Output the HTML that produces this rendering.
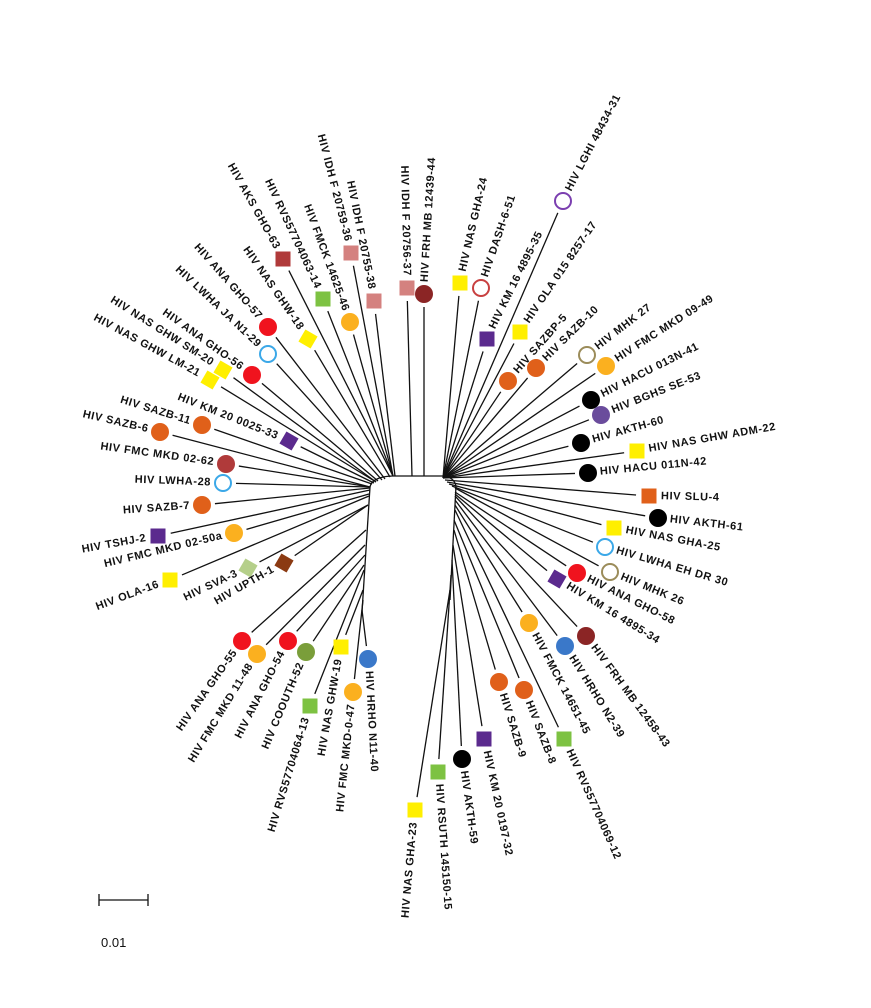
<!DOCTYPE html>
<html><head><meta charset="utf-8"><style>
html,body{margin:0;padding:0;background:#fff;width:871px;height:1008px;overflow:hidden}
text{font-family:"Liberation Sans",sans-serif;font-size:11px;font-weight:bold;fill:#111;letter-spacing:0.6px}
</style></head><body>
<svg id="s" width="871" height="1008" xmlns="http://www.w3.org/2000/svg">
<g stroke="#111" stroke-width="1.3" fill="none">
<path d="M370,487 Q372,477 392,476 L443,476 Q454,477 456,486"/>
<path d="M370,487 L362,612"/>
<path d="M456,486 L450,600"/>
<path d="M99,900 L148,900 M99,894 L99,906 M148,894 L148,906"/>
</g>
<text x="101" y="947" style="font-weight:normal;font-size:13px;letter-spacing:0">0.01</text>
</svg>
<script>
var R='#f0131e',O='#e0601a',Y='#fbb01f',YL='#ffef00',P='#5b2a8e',G='#7dc242',PK='#d4817f',DR='#8b2525',BR='#b03a3a',BL='#3ba8e8',OL='#9b8c5a',K='#000';
var L=[
['HIV AKS GHO-63',283,259,'s',BR,393,476],
['HIV RVS57704063-14',323,299,'s',G,393,476],
['HIV FMCK 14625-46',350,322,'c',Y,393,476],
['HIV IDH F 20759-36',351,253,'s',PK,393,476],
['HIV IDH F 20755-38',374,301,'s',PK,395,476],
['HIV IDH F 20756-37',407,288,'s',PK,412,476],
['HIV FRH MB 12439-44',424,294,'c',DR,424,476],
['HIV NAS GHW-18',308,339,'d',YL,390,477],
['HIV ANA GHO-57',268,327,'c',R,385,479],
['HIV LWHA JA N1-29',268,354,'r',BL,382,480],
['HIV ANA GHO-56',252,375,'c',R,378,481],
['HIV NAS GHW SM-20',223,370,'d',YL,376,482],
['HIV NAS GHW LM-21',210,380,'d',YL,376,482],
['HIV KM 20 0025-33',289,441,'d',P,374,483],
['HIV SAZB-11',202,425,'c',O,372,484],
['HIV SAZB-6',160,432,'c',O,370,487],
['HIV FMC MKD 02-62',226,464,'c',BR,370,487],
['HIV LWHA-28',223,483,'r',BL,370,487],
['HIV SAZB-7',202,505,'c',O,370,488],
['HIV TSHJ-2',158,536,'s',P,370,490],
['HIV FMC MKD 02-50a',234,533,'c',Y,369,494],
['HIV OLA-16',170,580,'s',YL,369,496],
['HIV SVA-3',248,568,'d','#b5cf8a',368,505],
['HIV UPTH-1',284,563,'d','#8b3a12',368,505],
['HIV ANA GHO-55',242,641,'c',R,366,530],
['HIV FMC MKD 11-48',257,654,'c',Y,365,545],
['HIV ANA GHO-54',288,641,'c',R,365,555],
['HIV COOUTH-52',306,652,'c','#7a9e3a',364,565],
['HIV RVS57704064-13',310,706,'s',G,364,570,107],
['HIV NAS GHW-19',341,647,'s',YL,363,590,100],
['HIV FMC MKD-0-47',353,692,'c',Y,363,600,96],
['HIV HRHO N11-40',368,659,'c','#3a78c9',362,610,87],
['HIV NAS GHA-24',460,283,'s',YL,443,478],
['HIV DASH-6-51',481,288,'r','#c84040',443,478],
['HIV KM 16 4895-35',487,339,'s',P,443,478],
['HIV LGHI 48434-31',563,201,'r','#7b3fb0',443,478],
['HIV OLA 015 8257-17',520,332,'s',YL,443,478],
['HIV SAZBP-5',508,381,'c',O,443,478],
['HIV SAZB-10',536,368,'c',O,443,478],
['HIV MHK 27',587,355,'r',OL,443,478],
['HIV FMC MKD 09-49',606,366,'c',Y,443,478],
['HIV HACU 013N-41',591,400,'c',K,443,478],
['HIV BGHS SE-53',601,415,'c','#6a4c9c',443,478],
['HIV AKTH-60',581,443,'c',K,443,478],
['HIV NAS GHW ADM-22',637,451,'s',YL,443,478],
['HIV HACU 011N-42',588,473,'c',K,443,478],
['HIV SLU-4',649,496,'s',O,445,480],
['HIV AKTH-61',658,518,'c',K,447,482],
['HIV NAS GHA-25',614,528,'s',YL,449,484],
['HIV LWHA EH DR 30',605,547,'r',BL,452,486],
['HIV MHK 26',610,572,'r',OL,455,488],
['HIV ANA GHO-58',577,573,'c',R,455,492],
['HIV KM 16 4895-34',557,579,'d',P,455,494],
['HIV FRH MB 12458-43',586,636,'c',DR,455,496],
['HIV HRHO N2-39',565,646,'c','#3a78c9',455,500],
['HIV FMCK 14651-45',529,623,'c',Y,455,505],
['HIV RVS57704069-12',564,739,'s',G,455,510],
['HIV SAZB-8',524,690,'c',O,454,520],
['HIV SAZB-9',499,682,'c',O,454,530],
['HIV KM 20 0197-32',484,739,'s',P,453,545],
['HIV AKTH-59',462,759,'c',K,452,560],
['HIV RSUTH 145150-15',438,772,'s',G,451,575],
['HIV NAS GHA-23',415,810,'s',YL,450,590,95]
];
var s=document.getElementById('s'),NS='http://www.w3.org/2000/svg';
function el(n,a){var e=document.createElementNS(NS,n);for(var k in a)e.setAttribute(k,a[k]);s.appendChild(e);return e;}
L.forEach(function(l){
 var mx=l[1],my=l[2],ox=l[5],oy=l[6],dx=mx-ox,dy=my-oy,d=Math.sqrt(dx*dx+dy*dy),ux=dx/d,uy=dy/d;
 el('line',{x1:ox,y1:oy,x2:mx-ux*13,y2:my-uy*13,stroke:'#111','stroke-width':1.3});
 var t=l[3],c=l[4];
 if(t=='c')el('circle',{cx:mx,cy:my,r:9,fill:c});
 else if(t=='r')el('circle',{cx:mx,cy:my,r:8,fill:'#fff',stroke:c,'stroke-width':2});
 else if(t=='s')el('rect',{x:mx-7.5,y:my-7.5,width:15,height:15,fill:c});
 else el('rect',{x:mx-7,y:my-7,width:14,height:14,fill:c,transform:'rotate(30 '+mx+' '+my+')'});
 var ccy=my>600?400:490;
 var cx=mx-412,cy=my-ccy,cd=Math.sqrt(cx*cx+cy*cy),vx=cx/cd,vy=cy/cd;
 if(l.length>7){var a=l[7]*Math.PI/180;vx=Math.cos(a);vy=Math.sin(a);}
 var ang=Math.atan2(vy,vx)*180/Math.PI,tx=mx+vx*12,ty=my+vy*12,tt;
 if(vx>0.02)tt=el('text',{x:tx,y:ty,'dominant-baseline':'middle','text-anchor':'start',transform:'rotate('+ang+' '+tx+' '+ty+')'});
 else tt=el('text',{x:tx,y:ty,'dominant-baseline':'middle','text-anchor':'end',transform:'rotate('+(ang+180)+' '+tx+' '+ty+')'});
 tt.textContent=l[0];
});
</script>
</body></html>
